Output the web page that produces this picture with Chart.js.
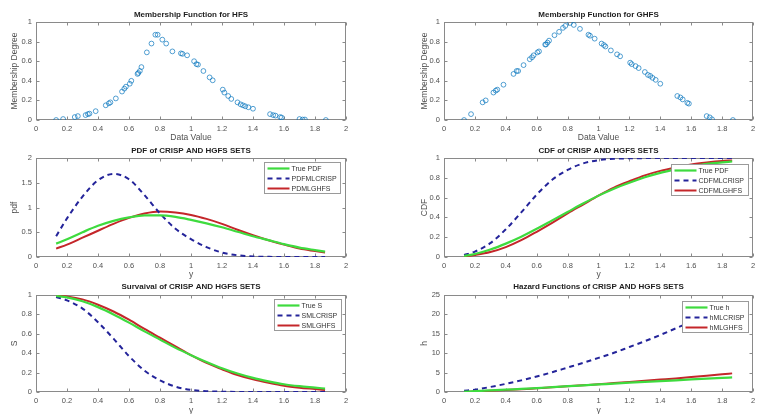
<!DOCTYPE html>
<html><head><meta charset="utf-8">
<script src="https://cdn.jsdelivr.net/npm/chart.js@4.4.0/dist/chart.umd.min.js"></script>
<style>
html,body{margin:0;padding:0;background:#fff;width:760px;height:414px;overflow:hidden;position:relative}
canvas{position:absolute}
</style></head><body>
<canvas id="c1"></canvas><canvas id="c2"></canvas>
<canvas id="c3"></canvas><canvas id="c4"></canvas>
<canvas id="c5"></canvas><canvas id="c6"></canvas>
<script>
// ---------- data ----------
const memX = [0.13,0.175,0.25,0.27,0.32,0.335,0.345,0.385,0.45,0.47,0.48,0.515,0.555,0.57,0.58,0.605,0.615,0.655,0.66,0.67,0.68,0.715,0.745,0.77,0.785,0.815,0.84,0.88,0.935,0.945,0.975,1.02,1.035,1.045,1.08,1.12,1.14,1.205,1.215,1.24,1.26,1.30,1.32,1.335,1.35,1.37,1.40,1.51,1.53,1.545,1.575,1.585,1.70,1.72,1.735,1.87];
const memHFS = [0,0.01,0.03,0.04,0.05,0.06,0.065,0.09,0.15,0.17,0.18,0.22,0.29,0.32,0.34,0.37,0.40,0.47,0.48,0.50,0.54,0.69,0.78,0.87,0.87,0.82,0.78,0.70,0.68,0.675,0.66,0.60,0.57,0.565,0.50,0.435,0.405,0.31,0.28,0.245,0.215,0.18,0.16,0.15,0.14,0.13,0.115,0.06,0.05,0.045,0.03,0.025,0.01,0.005,0.005,0];
const memGHFS = [0,0.06,0.18,0.20,0.28,0.30,0.31,0.36,0.47,0.50,0.50,0.56,0.62,0.64,0.66,0.69,0.70,0.77,0.77,0.79,0.81,0.865,0.90,0.94,0.96,0.99,0.97,0.93,0.87,0.86,0.83,0.78,0.765,0.75,0.71,0.67,0.65,0.585,0.57,0.55,0.53,0.49,0.46,0.45,0.43,0.41,0.37,0.245,0.23,0.21,0.175,0.167,0.04,0.027,0.007,0];

const curveX = [0.13,0.2,0.3,0.4,0.5,0.6,0.7,0.8,0.9,1.0,1.1,1.2,1.3,1.4,1.5,1.6,1.7,1.8,1.865];
const pdfTrue  = [0.27,0.36,0.50,0.63,0.73,0.80,0.84,0.84,0.81,0.75,0.68,0.60,0.51,0.42,0.34,0.26,0.19,0.14,0.11];
const pdfCrisp = [0.42,0.78,1.22,1.55,1.68,1.57,1.25,0.88,0.57,0.36,0.20,0.09,0.035,0.01,0.003,0,0,0,0];
const pdfGhfs  = [0.17,0.25,0.39,0.53,0.67,0.79,0.88,0.92,0.90,0.85,0.77,0.67,0.55,0.44,0.34,0.25,0.17,0.12,0.09];
const cdfTrue  = [0.01,0.03,0.075,0.135,0.205,0.285,0.37,0.455,0.54,0.62,0.69,0.75,0.805,0.85,0.885,0.915,0.94,0.955,0.965];
const cdfCrisp = [0.02,0.055,0.14,0.28,0.45,0.63,0.78,0.88,0.945,0.978,0.992,0.997,0.999,1,1,1,1,1,1];
const cdfGhfs  = [0.005,0.02,0.05,0.10,0.17,0.255,0.345,0.44,0.53,0.62,0.70,0.765,0.825,0.87,0.905,0.935,0.955,0.97,0.975];
const survTrue  = [0.99,0.975,0.935,0.875,0.80,0.715,0.625,0.54,0.455,0.38,0.31,0.245,0.19,0.145,0.11,0.08,0.06,0.045,0.035];
const survCrisp = [0.98,0.945,0.86,0.72,0.55,0.37,0.22,0.12,0.055,0.022,0.008,0.003,0.001,0,0,0,0,0,0];
const survGhfs  = [0.995,0.985,0.955,0.90,0.83,0.745,0.65,0.56,0.47,0.38,0.30,0.235,0.175,0.13,0.095,0.065,0.045,0.03,0.02];
const hazTrue  = [0.1,0.2,0.4,0.6,0.8,1.0,1.25,1.5,1.7,1.95,2.15,2.4,2.6,2.8,3.0,3.25,3.45,3.65,3.75];
const hazCrisp = [0.3,0.6,1.3,2.1,3.0,4.0,5.1,6.3,7.5,8.8,10.1,11.6,13.1,14.7,16.4,18.1,19.9,21.7,22.9];
const hazGhfs  = [0.05,0.15,0.3,0.5,0.7,0.95,1.2,1.5,1.75,2.0,2.3,2.6,2.9,3.2,3.5,3.85,4.2,4.55,4.8];

// ---------- style ----------
const FONT = '"Liberation Sans", Arial, Helvetica, sans-serif';
const TXT = '#505050', AX = '#8a8a8a', TTL = '#1e1e1e';
const GREEN = '#3edb3e', NAVY = '#24249a', RED = '#c4262a', MARK = 'rgba(0,114,189,0.85)';

const pts = (xs, ys) => xs.map((x, i) => ({x, y: ys[i]}));
const fmt = v => String(Number(Number(v).toFixed(3)));

const boxPlugin = {
  id: 'mbox',
  beforeDatasetsDraw(chart) {
    const {ctx, chartArea: a, scales: {x, y}} = chart;
    ctx.save();
    ctx.strokeStyle = AX; ctx.lineWidth = 1;
    const L = Math.round(a.left) + 0.5, R = Math.round(a.right) - 0.5;
    const T = Math.round(a.top) + 0.5, B = Math.round(a.bottom) - 0.5;
    ctx.strokeRect(L, T, R - L, B - T);
    ctx.beginPath();
    x.ticks.forEach(t => {
      const p = Math.round(x.getPixelForValue(t.value)) + 0.5;
      ctx.moveTo(p, B); ctx.lineTo(p, B - 3);
      ctx.moveTo(p, T); ctx.lineTo(p, T + 3);
    });
    y.ticks.forEach(t => {
      const p = Math.round(y.getPixelForValue(t.value)) + 0.5;
      ctx.moveTo(L, p); ctx.lineTo(L + 3, p);
      ctx.moveTo(R, p); ctx.lineTo(R - 3, p);
    });
    ctx.stroke();
    ctx.restore();
  }
};

const legendPlugin = {
  id: 'mleg',
  afterDatasetsDraw(chart, args, opts) {
    if (!opts || !opts.show) return;
    const {ctx, chartArea: a} = chart;
    const ds = chart.data.datasets;
    ctx.save();
    ctx.font = '7px ' + FONT;
    const tw = Math.max(...ds.map(d => ctx.measureText(d.label).width));
    const w = Math.round(3 + 22 + 2 + tw + 4);
    const h = 31;
    const x1 = Math.round(a.right - opts.dx) + 0.5, x0 = x1 - w, y0 = Math.round(a.top + opts.dy) + 0.5;
    ctx.fillStyle = '#fff';
    ctx.fillRect(x0, y0, w, h);
    ctx.strokeStyle = '#9a9a9a'; ctx.lineWidth = 1;
    ctx.strokeRect(x0, y0, w, h);
    ds.forEach((d, i) => {
      const cy = y0 + 6 + i * 10;
      ctx.strokeStyle = d.borderColor; ctx.lineWidth = d.borderWidth;
      ctx.setLineDash(d.borderDash || []);
      ctx.beginPath(); ctx.moveTo(x0 + 3, cy); ctx.lineTo(x0 + 25, cy); ctx.stroke();
      ctx.setLineDash([]);
      ctx.fillStyle = '#333'; ctx.textBaseline = 'middle'; ctx.textAlign = 'left';
      ctx.fillText(d.label, x0 + 27, cy + 0.5);
    });
    ctx.restore();
  }
};

const COLS = [{X: 0, W: 380, l: 36, r: 346, ytc: 15}, {X: 380, W: 380, l: 64, r: 373, ytc: 45}];
const ROWS = [
  {Y: 0, H: 146, t: 22, b: 120, tc: 15, xtc: 138},
  {Y: 140, H: 142, t: 18, b: 117, tc: 11, xtc: 135},
  {Y: 276, H: 142, t: 19, b: 116, tc: 11, xtc: 135}
];

function panel(id, col, row, spec) {
  const c = COLS[col], r = ROWS[row];
  const cv = document.getElementById(id);
  cv.width = c.W; cv.height = r.H;
  Object.assign(cv.style, {left: c.X + 'px', top: r.Y + 'px', width: c.W + 'px', height: r.H + 'px'});
  const tickFont = {family: FONT, size: 7.5};
  const axFont = {family: FONT, size: 8.5};
  new Chart(cv, {
    type: 'scatter',
    data: {datasets: spec.datasets},
    plugins: [boxPlugin, legendPlugin],
    options: {
      responsive: false, animation: false, devicePixelRatio: 1,
      events: [],
      layout: {padding: {left: 0, top: 0, bottom: 0, right: c.W - c.r}},
      plugins: {
        legend: {display: false}, tooltip: {enabled: false},
        title: {display: true, text: spec.title, fullSize: false, color: TTL,
          font: {family: FONT, size: 8, weight: 'bold'},
          padding: {top: r.tc - 4.8, bottom: r.t - r.tc - 4.8}},
        mleg: spec.legend ? {show: true, dx: spec.legend.dx, dy: spec.legend.dy} : {show: false}
      },
      scales: {
        x: {type: 'linear', min: 0, max: 2,
          grid: {display: false, drawTicks: false}, border: {display: false},
          ticks: {stepSize: 0.2, autoSkip: false, maxRotation: 0, padding: 4, color: TXT, font: tickFont, callback: fmt},
          title: {display: true, text: spec.xTitle, color: TXT, font: axFont, padding: {top: 0, bottom: r.H - r.xtc - 5.1}},
          afterFit(s) { s.height = r.H - r.b; }
        },
        y: {type: 'linear', min: spec.yMin, max: spec.yMax,
          grid: {display: false, drawTicks: false}, border: {display: false},
          ticks: {stepSize: spec.yStep, autoSkip: false, padding: 4, color: TXT, font: tickFont, callback: fmt},
          title: {display: true, text: spec.yTitle, color: TXT, font: axFont, padding: {top: c.ytc - 5.1, bottom: 0}},
          afterFit(s) { s.width = c.l; }
        }
      }
    }
  });
}

const scatterDs = (ys) => ({label: 'data', data: pts(memX, ys), showLine: false,
  pointStyle: 'circle', pointRadius: 2.4, pointBorderWidth: 0.8,
  borderColor: MARK, backgroundColor: 'rgba(0,0,0,0)'});
const lineDs = (label, ys, color, width, dash) => ({label, data: pts(curveX, ys), showLine: true,
  borderColor: color, backgroundColor: color, borderWidth: width, borderDash: dash || [],
  pointRadius: 0, cubicInterpolationMode: 'monotone', fill: false});

panel('c1', 0, 0, {title: 'Membership Function for HFS', xTitle: 'Data Value', yTitle: 'Membership Degree',
  yMin: 0, yMax: 1, yStep: 0.2, datasets: [scatterDs(memHFS)]});
panel('c2', 1, 0, {title: 'Membership Function for GHFS', xTitle: 'Data Value', yTitle: 'Membership Degree',
  yMin: 0, yMax: 1, yStep: 0.2, datasets: [scatterDs(memGHFS)]});
panel('c3', 0, 1, {title: 'PDF of CRISP AND HGFS SETS', xTitle: 'y', yTitle: 'pdf',
  yMin: 0, yMax: 2, yStep: 0.5, legend: {dx: 6, dy: 4}, datasets: [
    lineDs('True PDF', pdfTrue, GREEN, 2.2),
    lineDs('PDFMLCRISP', pdfCrisp, NAVY, 2, [5, 4]),
    lineDs('PDMLGHFS', pdfGhfs, RED, 2)]});
panel('c4', 1, 1, {title: 'CDF of CRISP AND HGFS SETS', xTitle: 'y', yTitle: 'CDF',
  yMin: 0, yMax: 1, yStep: 0.2, legend: {dx: 5, dy: 6}, datasets: [
    lineDs('True PDF', cdfTrue, GREEN, 2.2),
    lineDs('CDFMLCRISP', cdfCrisp, NAVY, 2, [5, 4]),
    lineDs('CDFMLGHFS', cdfGhfs, RED, 2)]});
panel('c5', 0, 2, {title: 'Survaival of CRISP AND HGFS SETS', xTitle: 'y', yTitle: 'S',
  yMin: 0, yMax: 1, yStep: 0.2, legend: {dx: 5, dy: 4}, datasets: [
    lineDs('True S', survTrue, GREEN, 2.2),
    lineDs('SMLCRISP', survCrisp, NAVY, 2, [5, 4]),
    lineDs('SMLGHFS', survGhfs, RED, 2)]});
panel('c6', 1, 2, {title: 'Hazard Functions of CRISP AND HGFS SETS', xTitle: 'y', yTitle: 'h',
  yMin: 0, yMax: 25, yStep: 5, legend: {dx: 5, dy: 6}, datasets: [
    lineDs('True h', hazTrue, GREEN, 2.2),
    lineDs('hMLCRISP', hazCrisp, NAVY, 2, [5, 4]),
    lineDs('hMLGHFS', hazGhfs, RED, 2)]});
</script>
</body></html>
